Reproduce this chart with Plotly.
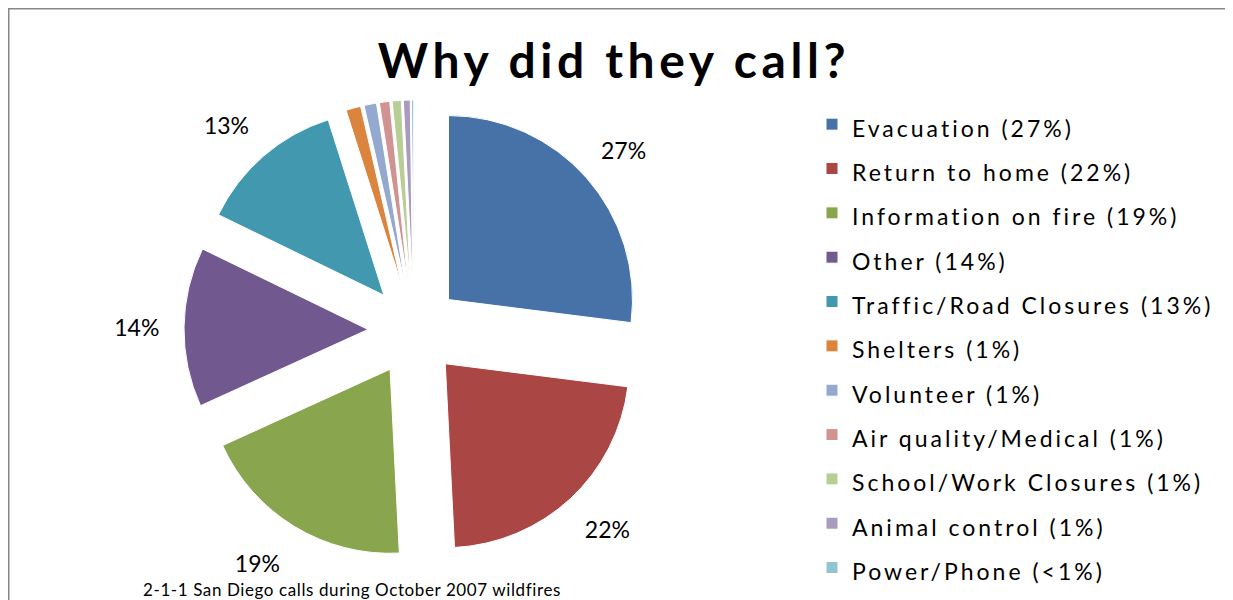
import math
import plotly.graph_objects as go

# ---- data ----
categories = ["Evacuation", "Return to home", "Information on fire", "Other",
              "Traffic/Road Closures", "Shelters", "Volunteer", "Air quality/Medical",
              "School/Work Closures", "Animal control", "Power/Phone"]
values = [27.0, 22.2, 19.0, 14.0, 12.9, 1.3, 1.1, 0.9, 0.8, 0.6, 0.2]
legend_pct = ["27%", "22%", "19%", "14%", "13%", "1%", "1%", "1%", "1%", "1%", "<1%"]
slice_text = ["27%", "22%", "19%", "14%", "13%", "", "", "", "", "", ""]
colors = ["#4672A8", "#AA4643", "#89A54E", "#71588F", "#4198AF", "#DB843D",
          "#93A9CF", "#D19392", "#B9CD96", "#A99BBD", "#92C5D4"]

title_text = "Why did they call?"
footer_text = "2-1-1 San Diego calls during October 2007 wildfires"

FONT = "Lato"
W, H = 1225, 592

# push outside labels a little further from the pie (as in the original),
# by padding each label on the side facing the pie
total = sum(values)
display_text = []
cum = 0.0
for v, t in zip(values, slice_text):
    mid = (cum + v / 2) / total * 2 * math.pi   # clockwise from 12 o'clock
    cum += v
    if not t:
        display_text.append("")
        continue
    up = math.cos(mid)
    if up > 0.35:
        display_text.append(t + "<br>&nbsp;")
    elif up < -0.35:
        display_text.append("&nbsp;<br>" + t)
    else:
        display_text.append(t + "&nbsp;&nbsp;&nbsp;" if math.sin(mid) < 0 else "&nbsp;&nbsp;&nbsp;" + t)

legend_labels = [
    f'<span style="font-size:23px;letter-spacing:3px">{c} ({p})</span>'
    for c, p in zip(categories, legend_pct)
]

fig = go.Figure()
fig.add_trace(go.Pie(
    labels=legend_labels,
    values=values,
    text=display_text,
    textinfo="text",
    textposition="outside",
    textfont=dict(family=FONT, size=23, color="#000000"),
    sort=False,
    direction="clockwise",
    rotation=0,
    pull=0.25,
    automargin=False,
    marker=dict(colors=colors, line=dict(color="#FFFFFF", width=1)),
    domain=dict(x=[176 / W, 636 / W], y=[40 / H, 500 / H]),
    hoverinfo="percent",
))

fig.update_layout(
    width=W, height=H,
    autosize=False,
    margin=dict(l=0, r=0, t=0, b=0, pad=0, autoexpand=False),
    paper_bgcolor="#FFFFFF",
    plot_bgcolor="#FFFFFF",
    font=dict(family=FONT, color="#000000"),
    title=dict(text=f'<span style="letter-spacing:4.6px">{title_text}</span>',
               x=606 / W, xanchor="center", y=1 - 53 / H, yanchor="middle",
               font=dict(family=FONT, size=48, color="#000000", weight="bold")),
    showlegend=True,
    legend=dict(x=804 / W, xanchor="left", y=1 - 89 / H, yanchor="top",
                font=dict(family=FONT, size=31.8, color="#000000"),
                bgcolor="rgba(0,0,0,0)", borderwidth=0),
    shapes=[dict(type="rect", xref="paper", yref="paper",
                 x0=0.75 / W, x1=1221 / W, y0=-0.2, y1=1 - 0.75 / H,
                 line=dict(color="#878787", width=1.5), fillcolor="rgba(0,0,0,0)")],
    annotations=[dict(text=f'<span style="letter-spacing:0.6px">{footer_text}</span>',
                      xref="paper", yref="paper",
                      x=344 / W, y=1 - 581 / H, xanchor="center", yanchor="middle",
                      showarrow=False, font=dict(family=FONT, size=17, color="#000000"))],
)

fig.write_html("out.html")
